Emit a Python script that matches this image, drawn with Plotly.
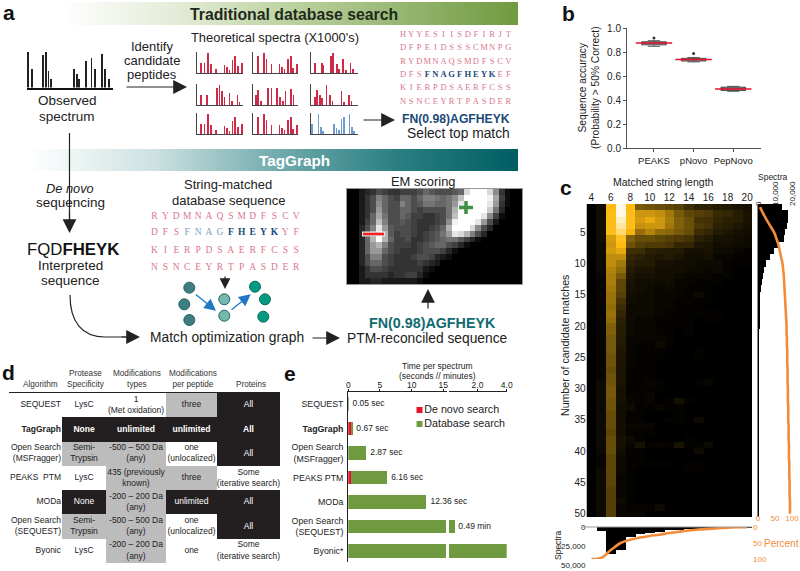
import plotly.graph_objects as go

W, H = 800, 571
SANS = "Liberation Sans"
SERIF = "Liberation Serif"
ORANGE = "#f28c38"
GREEN = "#6f9a3f"

# ---- data -----------------------------------------------------------------
ACC_NAMES = ["PEAKS", "pNovo", "PepNovo"]
ACC_Q1 = [0.862, 0.727, 0.482]
ACC_MED = [0.878, 0.74, 0.495]
ACC_Q3 = [0.888, 0.75, 0.51]
ACC_LOW = [0.85, 0.72, 0.475]
ACC_HIGH = [0.897, 0.757, 0.516]
ACC_OUT = [0.92, 0.79, None]

LENGTHS = list(range(4, 21))
CANDIDATES = list(range(1, 51))
MATCH_RATE = [
    [0,4,60,100,60,28,26,24,22,20,14,10,10,8,7,6,5],
    [0,4,62,100,62,48,48,45,38,28,22,20,18,13,12,9,6],
    [0,4,62,94,62,50,55,48,40,30,25,16,15,12,10,9,6],
    [0,4,62,88,62,46,48,48,38,30,25,18,16,10,9,7,5],
    [0,4,62,80,58,35,42,34,32,28,24,14,12,8,7,5,4],
    [0,4,50,64,30,24,24,22,20,18,16,10,8,5,5,4,3],
    [0,3,48,60,25,20,18,18,17,12,12,7,6,4,4,3,3],
    [0,3,50,54,14,14,10,9,8,8,5,5,6,3,3,2,1],
    [0,3,45,45,12,10,8,7,8,6,4,4,5,2,2,1,1],
    [0,3,45,38,10,8,8,5,5,4,4,3,3,3,1,1,1],
    [0,3,42,34,8,6,6,4,4,4,3,3,2,3,1,0,0],
    [0,2,40,28,7,5,5,4,4,3,2,2,2,1,1,0,0],
    [0,2,40,22,6,4,4,3,4,2,2,1,1,1,0,0,0],
    [0,2,38,22,5,4,3,2,3,2,1,1,1,0,0,0,0],
    [0,2,36,20,4,3,3,2,2,2,1,3,1,0,0,0,0],
    [0,2,36,16,4,3,3,2,2,1,1,1,1,0,0,0,0],
    [0,2,34,14,3,3,3,2,2,1,1,1,0,0,0,0,0],
    [0,2,36,12,3,3,3,2,1,1,1,1,1,1,0,0,0],
    [0,2,34,10,3,2,2,1,1,1,1,0,1,1,0,0,0],
    [0,2,30,9,3,2,2,1,1,1,1,0,0,0,0,0,0],
    [0,2,30,9,3,2,2,1,1,0,1,0,0,0,0,0,0],
    [0,2,28,8,2,2,2,2,1,0,0,0,0,0,0,0,0],
    [0,2,28,8,2,1,1,3,1,0,0,0,0,0,0,0,0],
    [0,2,28,7,2,1,1,1,0,0,0,1,0,0,0,0,0],
    [0,2,26,7,2,1,1,1,0,0,0,1,0,0,0,0,0],
    [0,2,26,6,2,1,1,0,0,0,0,0,0,0,0,0,0],
    [0,2,24,6,1,1,1,0,0,0,0,0,0,0,0,0,0],
    [0,2,26,6,1,1,1,0,0,0,0,0,0,0,0,0,0],
    [0,3,26,6,1,1,2,1,0,0,0,1,2,0,0,0,0],
    [0,3,28,5,1,1,1,1,0,0,0,0,0,0,0,0,0],
    [0,3,28,5,1,1,2,0,0,0,0,0,0,0,0,0,0],
    [0,3,26,5,2,1,2,0,1,5,1,0,0,0,0,0,0],
    [0,3,26,4,3,1,1,2,1,1,0,0,0,0,0,0,0],
    [0,3,24,4,1,1,0,0,0,1,0,0,0,0,0,0,0],
    [0,3,24,4,1,1,0,0,1,1,0,3,0,0,0,0,0],
    [0,3,24,4,2,2,2,0,0,0,0,0,0,0,0,0,0],
    [0,3,22,4,1,1,1,0,0,0,0,0,0,0,0,0,0],
    [0,3,24,5,3,1,0,0,0,0,1,0,0,0,0,0,0],
    [0,3,24,5,2,5,1,2,1,6,1,1,3,0,0,0,0],
    [0,3,24,4,1,1,0,0,0,0,0,3,0,0,0,0,0],
    [0,2,22,3,1,1,0,0,0,0,0,0,0,0,0,0,0],
    [0,2,22,3,1,1,1,1,1,0,1,1,0,0,0,0,0],
    [0,3,22,3,1,0,0,0,0,0,1,1,0,0,0,0,0],
    [0,3,22,2,1,0,0,0,0,0,0,0,0,0,0,0,0],
    [0,3,22,2,1,0,0,0,0,0,0,0,0,0,0,0,0],
    [0,3,20,2,1,0,0,0,0,0,0,0,0,0,0,0,0],
    [0,3,20,2,1,0,0,0,0,0,0,0,0,0,0,0,0],
    [0,3,20,3,1,0,0,0,0,0,0,0,0,0,0,0,0],
    [0,3,20,2,1,1,1,3,0,0,0,0,0,0,0,0,0],
    [0,3,20,2,2,2,0,0,0,0,0,0,0,0,0,0,0],
]
CAND_SPECTRA = [14000,17500,17500,17300,16000,15000,12000,9700,7100,4800,3600,2800,2200,1700,1400,
                1150,950,800,700,620,560,500,450,410,370,340,310,290,270,250,235,220,210,200,190,
                180,170,160,155,150,145,140,135,130,125,120,115,110,105,100]
CAND_PERCENT = [6,15,25,36,47,54,60,64,68,72,74,76,77,78,79,80,81,82,83,84,84,85,85,86,86,86,87,87,87,88,
                88,88,89,89,89,90,90,90,91,91,91,92,92,92,93,93,93,94,94,94]
LEN_SPECTRA = [0,5000,36000,30000,13000,9500,8000,6000,4500,3500,2700,2000,1300,800,500,200,100]
LEN_PERCENT = [100,97,72,50,40,33,28,24,19,15,11,8,6,4,2,1,0.5]

EM_SCORE = [
    [0,0,2,3,4,6,5,4,4,5,5,5,6,8,7,6,6,6,7,8,17,20,20,20,17,11,4,1,0,0],
    [0,0,2,4,6,10,8,6,5,8,8,6,8,10,10,9,8,9,11,15,20,20,20,20,19,13,5,1,0,0],
    [0,0,2,4,6,11,8,6,6,10,8,6,7,9,9,8,8,9,12,18,20,20,20,20,18,12,4,1,0,0],
    [0,0,2,4,6,12,8,6,6,8,8,6,5,6,6,6,6,9,14,20,20,20,20,20,16,9,3,0,0,0],
    [0,0,2,4,8,13,9,6,6,8,7,5,5,4,4,5,6,9,15,20,20,20,20,18,11,5,1,0,0,0],
    [0,0,2,5,8,15,10,6,6,7,6,5,4,4,4,5,6,11,19,20,20,20,18,12,6,2,0,0,0,0],
    [0,0,3,6,10,18,12,7,6,6,6,5,4,4,5,6,8,14,20,20,20,17,11,6,3,0,0,0,0,0],
    [0,0,3,6,12,20,14,7,5,6,6,5,4,5,6,7,9,12,18,17,14,10,6,3,0,0,0,0,0,0],
    [0,0,3,8,14,20,14,8,5,5,6,4,4,5,6,7,8,9,9,7,5,3,1,0,0,0,0,0,0,0],
    [0,0,3,8,12,14,10,6,5,5,5,4,5,6,7,8,8,6,5,3,1,0,0,0,0,0,0,0,0,0],
    [0,0,3,8,12,12,8,6,5,4,4,4,5,6,6,6,5,3,1,0,0,0,0,0,0,0,0,0,0,0],
    [0,0,3,6,10,10,6,5,4,4,4,5,6,6,5,3,2,1,0,0,0,0,0,0,0,0,0,0,0,0],
    [0,0,3,6,8,8,6,5,4,4,4,4,5,4,3,2,0,0,0,0,0,0,0,0,0,0,0,0,0,0],
    [0,0,2,4,6,6,5,4,4,4,4,4,4,2,1,0,0,0,0,0,0,0,0,0,0,0,0,0,0,0],
    [0,0,2,4,4,4,4,3,4,4,5,5,3,1,0,0,0,0,0,0,0,0,0,0,0,0,0,0,0,0],
    [0,0,2,2,3,3,2,2,2,2,2,2,1,0,0,0,0,0,0,0,0,0,0,0,0,0,0,0,0,0],
]

TABLE_HEAD = ["Algorithm", "Protease<br>Specificity", "Modifications<br>types", "Modifications<br>per peptide", "Proteins"]
TABLE_ALGO = ["SEQUEST", "<b>TagGraph</b>", "Open Search<br>(MSFragger)", "PEAKS  PTM", "MODa", "Open Search<br>(SEQUEST)", "Byonic"]
TABLE_TEXT = [
    ["LysC", "1<br>(Met oxidation)", "three", "All"],
    ["<b>None</b>", "<b>unlimited</b>", "<b>unlimited</b>", "<b>All</b>"],
    ["Semi-<br>Trypsin", "-500 – 500 Da<br>(any)", "one<br>(unlocalized)", "All"],
    ["LysC", "435 (previously<br>known)", "three", "Some<br>(iterative search)"],
    ["None", "-200 – 200 Da<br>(any)", "unlimited", "All"],
    ["Semi-<br>Trypsin", "-500 – 500 Da<br>(any)", "one<br>(unlocalized)", "All"],
    ["LysC", "-200 – 200 Da<br>(any)", "one", "Some<br>(iterative search)"],
]
TABLE_LEVEL = [
    [0, 0, 1, 2],
    [2, 2, 2, 2],
    [1, 1, 0, 2],
    [0, 1, 1, 0],
    [2, 1, 2, 2],
    [1, 1, 0, 2],
    [0, 1, 0, 0],
]

TIME_ALGO = ["SEQUEST", "<b>TagGraph</b>", "Open Search<br>(MSFragger)", "PEAKS PTM", "MODa", "Open Search<br>(SEQUEST)", "Byonic*"]
TIME_DENOVO_SEC = [0, 0.5, 0, 0.45, 0, 0, 0]
TIME_DB_SEC = [0.05, 0.17, 2.87, 5.71, 12.36, 15.4, 15.4]
TIME_DB_MIN = [None, None, None, None, None, 0.49, 3.99]
TIME_LABEL = ["0.05 sec", "0.67 sec", "2.87 sec", "6.16 sec", "12.36 sec", "0.49 min", "3.99 min"]
LEGEND_NAMES = ["De novo search", "Database search"]

OBS_POS = [1, 6, 19, 22, 25, 28, 55, 58, 61, 69, 75, 79, 87, 91, 95]
OBS_H = [100, 53, 90, 100, 45, 24, 53, 38, 24, 73, 83, 53, 94, 53, 24]
SPEC_POS = {
    "A": [9,16,23,30,41,59,64,70,76,81,88,96],
    "B": [11,24,30,41,59,65,70,78,84,89,97],
    "C": [8,23,26,42,47,56,60,68,75,84,89],
    "D": [9,21,43,48,54,59,70,75,87,91],
    "E": [6,11,18,33,41,54,60,67,72,84,90],
    "F": [8,13,19,23,33,40,46,65,70,81,86],
    "I": [2,16,21,26,49,54,59,65,70,82,87,91],
}
SPEC_H = {
    "A": [50,50,97,45,20,40,30,16,60,80,35,48],
    "B": [80,97,65,45,45,30,20,65,80,25,45],
    "C": [48,48,38,80,97,45,20,65,16,48,20],
    "D": [48,48,80,97,65,40,56,20,48,13],
    "E": [48,72,20,80,80,80,40,20,65,77,48],
    "F": [40,72,48,32,97,48,20,65,13,48,20],
    "I": [48,97,35,16,48,30,20,72,80,97,32,16],
}
SPEC_GRID = [["A", "B", "C"], ["D", "E", "F"], ["A", "B", "I"]]
SEQ_A = ["HYYESIISDFIRJT", "DFPEIDSSSCMNPG", "RYDMNAQSMDFSCV", "DFSFNAGFHEYKEF", "KIERPDSAERFCSS", "NSNCEYRTPASDER"]
SEQ_B = ["RYDMNAQSMDFSCV", "DFSFNAGFHEYKYF", "KIERPDSAERFCSS", "NSNCEYRTPASDER"]

# ---- helpers --------------------------------------------------------------
fig = go.Figure()
layout = dict(width=W, height=H, margin=dict(l=0, r=0, t=0, b=0, pad=0, autoexpand=False), showlegend=False,
              paper_bgcolor="white", plot_bgcolor="rgba(0,0,0,0)", barmode="stack", bargap=0,
              font=dict(family=SANS, size=10, color="#222"))
annos, shapes = [], []
_n = [1]


def axes(x0, x1, y0, y1, xa=None, ya=None):
    """New axis pair placed by its pixel box; returns trace refs."""
    i = _n[0]
    _n[0] += 1
    sx = "" if i == 1 else str(i)
    xd = dict(domain=[x0 / W, x1 / W], anchor=f"y{sx}", showgrid=False, zeroline=False, visible=False)
    yd = dict(domain=[1 - y1 / H, 1 - y0 / H], anchor=f"x{sx}", showgrid=False, zeroline=False, visible=False)
    xd.update(xa or {})
    yd.update(ya or {})
    layout[f"xaxis{sx}"] = xd
    layout[f"yaxis{sx}"] = yd
    return f"x{sx}", f"y{sx}"


X, Y = axes(0, W, 0, H, dict(range=[0, W]), dict(range=[H, 0]))


def txt(x, y, s, size=13.5, color="#222", **kw):
    annos.append(dict(x=x, y=y, xref="x", yref="y", text=s, showarrow=False,
                      font=dict(size=size, color=color, family=kw.pop("family", SANS)),
                      xanchor=kw.pop("xanchor", "center"), yanchor="middle", **kw))


def arrow(x0, y0, x1, y1, color="#222", width=1.2, size=2.3):
    annos.append(dict(x=x1, y=y1, ax=x0, ay=y0, xref="x", yref="y", axref="x", ayref="y", text="",
                      showarrow=True, arrowhead=2, arrowsize=size, arrowwidth=width, arrowcolor=color, standoff=0))


def line(x0, y0, x1, y1, color="#222", width=1.2):
    shapes.append(dict(type="line", x0=x0, y0=y0, x1=x1, y1=y1, xref="x", yref="y",
                       line=dict(color=color, width=width)))


# ---- panel a: banners -----------------------------------------------------
xa, ya = axes(60, 518, 2, 25, dict(range=[0, 4]), dict(range=[0, 1]))
fig.add_trace(go.Heatmap(z=[[0, 1, 2, 3, 4], [0, 1, 2, 3, 4]], x=[0, 1, 2, 3, 4], y=[0, 1], zsmooth="best",
                         colorscale=[[0, "#ffffff"], [0.25, "#e4ecd8"], [0.5, "#bcd2a0"], [0.75, "#95b570"], [1, GREEN]],
                         showscale=False, hoverinfo="skip", xaxis=xa, yaxis=ya))
xa, ya = axes(28, 518, 149, 171, dict(range=[0, 4]), dict(range=[0, 1]))
fig.add_trace(go.Heatmap(z=[[0, 1, 2, 3, 4], [0, 1, 2, 3, 4]], x=[0, 1, 2, 3, 4], y=[0, 1], zsmooth="best",
                         colorscale=[[0, "#ffffff"], [0.25, "#cfe2e2"], [0.5, "#75adae"], [0.75, "#2a7f82"], [1, "#005d62"]],
                         showscale=False, hoverinfo="skip", xaxis=xa, yaxis=ya))
txt(294, 14, "<b>Traditional database search</b>", 15.8, "#1e2a1a")
txt(294, 160, "<b>TagGraph</b>", 15.3, "white")

# observed spectrum
xa, ya = axes(27, 113, 50, 87.5,
              dict(visible=True, range=[0, 100], showline=True, linecolor="#111", linewidth=2,
                   showticklabels=False, ticks=""),
              dict(range=[0, 105]))
fig.add_trace(go.Bar(x=OBS_POS, y=OBS_H, width=[2.4] + [1.1] * (len(OBS_POS) - 1), marker=dict(color="#222", line=dict(width=0)),
                     showlegend=False, hoverinfo="skip", xaxis=xa, yaxis=ya))

# theoretical spectra
col_x = [(196.7, 243.3), (253.3, 298.3), (311, 358)]
row_y = [73.3, 105, 134.3]
for r, row in enumerate(SPEC_GRID):
    for c, key in enumerate(row):
        colr = "#6f9bd1" if key == "I" else "#cf2a48"
        xa, ya = axes(col_x[c][0], col_x[c][1], row_y[r] - 21, row_y[r],
                      dict(visible=True, range=[0, 100], showline=True, linecolor="#444", linewidth=1,
                           showticklabels=False, ticks=""),
                      dict(visible=True, range=[0, 100], showline=True, linecolor="#444", linewidth=1,
                           showticklabels=False, ticks=""))
        fig.add_trace(go.Bar(x=SPEC_POS[key], y=SPEC_H[key], width=1.6, marker=dict(color=colr, line=dict(width=0)),
                             showlegend=False, hoverinfo="skip", xaxis=xa, yaxis=ya))

txt(152, 46, "Identify", 13)
txt(152, 60, "candidate", 13)
txt(152, 74, "peptides", 13)
txt(67, 100, "Observed")
txt(67, 116, "spectrum")
txt(275, 37, "Theoretical spectra (X1000's)", 12.9)
arrow(125, 87, 187, 87)
arrow(362, 120, 395, 120)
txt(456, 119, "<b>FN(0.98)AGFHEYK</b>", 12.2, "#1c4a78")
txt(458, 133, "Select top match", 13.8)


def letters(rows, x0, dx, ys, size, special):
    """Spread the sequences letter by letter; special maps (row, col) to a style key."""
    groups = {}
    for r, s in enumerate(rows):
        for c, ch in enumerate(s):
            k = special.get((r, c), "plain")
            g = groups.setdefault(k, ([], [], []))
            g[0].append(x0 + c * dx)
            g[1].append(ys[r])
            g[2].append(ch)
    style = dict(plain=("#d9788c", "normal"), bold=("#1c4a78", "bold"), pale=("#7f9fbd", "normal"))
    for k, (gx, gy, gt) in groups.items():
        fig.add_trace(go.Scatter(x=gx, y=gy, text=gt, mode="text", showlegend=False, hoverinfo="skip", xaxis=X, yaxis=Y,
                                 textfont=dict(family=SERIF, size=size, color=style[k][0], weight=style[k][1])))


letters(SEQ_A, 403, 8.1, [35, 48, 62, 75, 88, 102], 8.5, {(3, c): "bold" for c in range(3, 12)})
sp = {(1, c): "pale" for c in range(3, 7)}
sp.update({(1, c): "bold" for c in range(7, 12)})
letters(SEQ_B, 154.5, 10.9, [217, 233, 251, 268], 9.5, sp)

# lower flow
line(69.5, 133, 69.5, 225)
arrow(69.5, 210, 69.5, 233)
txt(70, 188, "<i>De novo</i>", 12.8)
txt(70, 202, "sequencing")
txt(73, 249, "FQD<b>FHEYK</b>", 16.8, "#111")
txt(70, 265, "Interpreted")
txt(70, 280, "sequence")
shapes.append(dict(type="path", path="M 70 295 C 70 322, 82 337, 105 337 L 130 337", xref="x", yref="y",
                   line=dict(color="#222", width=1.2)))
arrow(120, 337, 140, 337)
txt(228, 184, "String-matched", 13)
txt(228, 200, "database sequence", 13)
arrow(225, 275, 225, 289, "#222", 1.2, 1.8)
txt(227, 337, "Match optimization graph", 13.8)
arrow(311, 338, 340, 338)
txt(427, 338, "PTM-reconciled sequence", 13.8)
txt(432, 323, "<b>FN(0.98)AGFHEYK</b>", 14.3, "#0f6b6e")
arrow(428, 310, 428, 289)
txt(423, 181, "EM scoring", 12.9)

# match graph
for gx, gy, fc, lc in [
    ([189.3, 184.3, 189.3], [287.7, 304.3, 320], "#3d7f80", "#2a5f60"),
    ([224.3, 224.3], [299.3, 315.7], "#74b9b0", "#2a5f60"),
    ([255, 265, 263.3], [286.7, 299.3, 316.7], "#069a80", "#0b6a5c"),
]:
    fig.add_trace(go.Scatter(x=gx, y=gy, mode="markers", showlegend=False, hoverinfo="skip", xaxis=X, yaxis=Y,
                             marker=dict(size=11, color=fc, line=dict(color=lc, width=1))))
arrow(194.3, 293.3, 216, 310.7, "#1f78c1", 1.3, 1.8)
arrow(230, 311, 250.7, 294.3, "#1f78c1", 1.3, 1.8)

# EM heat map
xa, ya = axes(347, 522, 189, 284,
              dict(range=[-0.5, 29.5], visible=True, showline=True, mirror=True, linecolor="#999", linewidth=1,
                   showticklabels=False, ticks=""),
              dict(range=[15.5, -0.5], visible=True, showline=True, mirror=True, linecolor="#999", linewidth=1,
                   showticklabels=False, ticks=""))
fig.add_trace(go.Heatmap(z=EM_SCORE, zmin=0, zmax=20, colorscale=[[0, "#000000"], [1, "#ffffff"]], showscale=False,
                         hoverinfo="skip", xaxis=xa, yaxis=ya))
line(362, 234, 385, 234, "#e6e6e6", 5)
line(363, 234, 384, 234, "#ee2024", 2.6)
line(466, 201, 466, 214, "#3f8f45", 3.5)
line(459, 207.5, 473, 207.5, "#3f8f45", 3.5)

# ---- panel b --------------------------------------------------------------
xa, ya = axes(627, 761, 28.3, 148.3,
              dict(visible=True, range=[-0.68, 2.7], tickvals=[0, 1, 2], ticktext=ACC_NAMES, showline=True,
                   linecolor="#555", linewidth=1, ticks="outside", ticklen=3, tickcolor="#555",
                   tickfont=dict(size=9.5, color="#222")),
              dict(visible=True, range=[0, 1], tickvals=[0, .2, .4, .6, .8, 1], tickformat=".1f", showline=True,
                   linecolor="#555", linewidth=1, ticks="outside", ticklen=3, tickcolor="#555",
                   tickfont=dict(size=10, color="#222")))
fig.add_trace(go.Box(x=[0, 1, 2], q1=ACC_Q1, median=ACC_MED, q3=ACC_Q3, lowerfence=ACC_LOW, upperfence=ACC_HIGH,
                     width=0.62, fillcolor="#8d9494", line=dict(color="#333", width=0.8), showlegend=False,
                     hoverinfo="skip", boxpoints=False, xaxis=xa, yaxis=ya))
fig.add_trace(go.Scatter(x=[0, 1, 2], y=ACC_MED, mode="markers", showlegend=False, hoverinfo="skip", xaxis=xa, yaxis=ya,
                         marker=dict(symbol="line-ew", size=26, line=dict(color="#e8112d", width=1.5))))
fig.add_trace(go.Scatter(x=[0, 1, 2], y=ACC_OUT, mode="markers", showlegend=False, hoverinfo="skip", xaxis=xa, yaxis=ya,
                         marker=dict(symbol="circle", size=3, color="#333")))
txt(589, 88, "Sequence accuracy<br>(Probability > 50% Correct)", 10.2, textangle=-90)

# ---- panel c --------------------------------------------------------------
HX0, HX1, HY0, HY1 = 586.5, 752, 204, 517
xh, yh = axes(HX0, HX1, HY0, HY1,
              dict(visible=True, range=[3.5, 20.5], side="top", tickvals=list(range(4, 21, 2)), ticks="",
                   tickfont=dict(size=10, color="#222"), showline=False),
              dict(visible=True, range=[50.5, 0.5], tickvals=list(range(5, 51, 5)), ticks="",
                   tickfont=dict(size=10, color="#222"), showline=False))
fig.add_trace(go.Heatmap(z=MATCH_RATE, x=LENGTHS, y=CANDIDATES, zmin=0, zmax=100, showscale=False, hoverinfo="skip",
                         colorscale=[[0, "#000000"], [0.3, "#80600a"], [0.6, "#ffba10"], [0.8, "#ffd870"], [1, "#fff8e4"]],
                         xaxis=xh, yaxis=yh))
txt(663, 182, "Matched string length", 10.5)
txt(565, 346, "Number of candidate matches", 10.6, textangle=-90)
txt(773, 177, "Spectra", 8.5)
txt(558, 545, "Spectra", 8.5, textangle=-90)
txt(781, 543, "Percent", 10, ORANGE)

# right histogram
xa, ya = axes(758, 792, HY0, HY1,
              dict(visible=True, range=[0, 20000], side="top", tickvals=[0, 10000, 20000], tickformat=",", tickangle=-90,
                   ticks="", tickfont=dict(size=8, color="#222"), showline=False, ticklabelstandoff=-3),
              dict(visible=True, range=[50.5, 0.5], showline=True, linecolor="#888", linewidth=1, ticks="",
                   showticklabels=False))
fig.add_trace(go.Bar(y=CANDIDATES, x=CAND_SPECTRA, orientation="h", marker=dict(color="black", line=dict(width=0)),
                     showlegend=False, hoverinfo="skip", xaxis=xa, yaxis=ya))
xa, ya = axes(758, 792, HY0, HY1,
              dict(visible=True, range=[0, 100], side="bottom", tickvals=[0, 50, 100], ticks="",
                   tickfont=dict(size=8, color=ORANGE), showline=False, ticklabelstandoff=-5),
              dict(range=[50.5, 0.5]))
fig.add_trace(go.Scatter(x=CAND_PERCENT, y=CANDIDATES, mode="lines", line=dict(color=ORANGE, width=2.6, shape="spline"),
                         showlegend=False, hoverinfo="skip", xaxis=xa, yaxis=ya))

# bottom histogram
xa, ya = axes(HX0, HX1, 527, 565,
              dict(range=[3.5, 20.5]),
              dict(visible=True, range=[50000, 0], tickvals=[0, 25000, 50000], tickformat=",", ticks="",
                   tickfont=dict(size=8, color="#222"), showline=False))
fig.add_trace(go.Bar(x=LENGTHS, y=LEN_SPECTRA, marker=dict(color="black", line=dict(width=0)),
                     showlegend=False, hoverinfo="skip", xaxis=xa, yaxis=ya))
line(583, 527, 752, 527, "#999", 1)
xa, ya = axes(HX0, HX1, 527, 559,
              dict(range=[3.5, 20.5]),
              dict(visible=True, range=[100, 0], side="right", tickvals=[0, 50, 100], ticks="",
                   tickfont=dict(size=8, color=ORANGE), showline=False))
fig.add_trace(go.Scatter(x=LENGTHS, y=LEN_PERCENT, mode="lines", line=dict(color=ORANGE, width=2.6, shape="spline"),
                         showlegend=False, hoverinfo="skip", xaxis=xa, yaxis=ya))

# ---- panel d --------------------------------------------------------------
COL_EDGES = [62, 106, 166, 217, 280]
xa, ya = axes(9, 280, 393, 563, dict(range=[9, 280]), dict(range=[7, 0]))
fig.add_trace(go.Heatmap(z=TABLE_LEVEL, x=COL_EDGES, y=list(range(8)), zmin=0, zmax=2, showscale=False, hoverinfo="skip",
                         colorscale=[[0, "#ffffff"], [0.5, "#bcbcbc"], [1, "#231f20"]], xaxis=xa, yaxis=ya))
cx, cy, ct, cc = [], [], [], []
for r, row in enumerate(TABLE_TEXT):
    for c, s in enumerate(row):
        cx.append((COL_EDGES[c] + COL_EDGES[c + 1]) / 2)
        cy.append(r + 0.5)
        ct.append(s)
        cc.append("white" if TABLE_LEVEL[r][c] == 2 else "#222")
fig.add_trace(go.Scatter(x=cx, y=cy, text=ct, mode="text", textfont=dict(size=8.5, color=cc), showlegend=False,
                         hoverinfo="skip", cliponaxis=False, xaxis=xa, yaxis=ya))
fig.add_trace(go.Scatter(x=[61] * 7, y=[r + 0.5 for r in range(7)], text=TABLE_ALGO, mode="text",
                         textposition="middle left", textfont=dict(size=8.5, color="#222"), showlegend=False,
                         hoverinfo="skip", cliponaxis=False, xaxis=xa, yaxis=ya))
line(9, 392.5, 280, 392.5, "#222", 1.2)
for hx, hs in zip([40, 86, 137, 193, 251], TABLE_HEAD):
    annos.append(dict(x=hx, y=391, xref="x", yref="y", text=hs, showarrow=False, yanchor="bottom",
                      font=dict(size=8.2, color="#333"), align="center"))

# ---- panel e --------------------------------------------------------------
xe, ye = axes(348.3, 446.5, 392, 562,
              dict(visible=True, range=[0, 15.5], side="top", tickvals=[0, 5, 10, 15], ticks="outside", ticklen=2,
                   tickcolor="#222", showline=True, linecolor="#222", linewidth=1.2, ticklabelstandoff=-2,
                   tickfont=dict(size=8.5, color="#222")),
              dict(visible=True, range=[6.45, -0.49], tickvals=list(range(7)), ticktext=TIME_ALGO, ticks="",
                   showline=True, linecolor="#222", linewidth=1.2, ticklabelstandoff=2,
                   tickfont=dict(size=8.8, color="#222")))
xm, _ = axes(449, 506.7, 392, 562,
             dict(visible=True, range=[0.05, 4], side="top", tickvals=[2, 4], tickformat=".1f", ticks="outside", ticklen=2,
                  tickcolor="#222", showline=True, linecolor="#222", linewidth=1.2, anchor=ye, ticklabelstandoff=-2,
                  tickfont=dict(size=8.5, color="#222")),
             dict(range=[6.45, -0.49]))
rows = list(range(7))
fig.add_trace(go.Bar(y=rows, x=TIME_DENOVO_SEC, orientation="h", width=0.57,
                     marker=dict(color="#e8112d", line=dict(width=0)), hoverinfo="skip", xaxis=xe, yaxis=ye))
fig.add_trace(go.Bar(y=rows, x=TIME_DB_SEC, orientation="h", width=0.57,
                     marker=dict(color=GREEN, line=dict(width=0)), hoverinfo="skip", xaxis=xe, yaxis=ye))
fig.add_trace(go.Bar(y=rows, x=TIME_DB_MIN, orientation="h", width=0.57,
                     marker=dict(color=GREEN, line=dict(width=0)), hoverinfo="skip", xaxis=xm, yaxis=ye))
fig.add_trace(go.Scatter(x=[a + b + 0.6 for a, b in zip(TIME_DENOVO_SEC[:5], TIME_DB_SEC[:5])], y=rows[:5],
                         text=TIME_LABEL[:5], mode="text", textposition="middle right", cliponaxis=False,
                         textfont=dict(size=8.5, color="#222"), showlegend=False, hoverinfo="skip", xaxis=xe, yaxis=ye))
fig.add_trace(go.Scatter(x=[v + 0.2 for v in TIME_DB_MIN[5:]], y=rows[5:],
                         text=TIME_LABEL[5:], mode="text", textposition="middle right", cliponaxis=False,
                         textfont=dict(size=8.5, color="#222"), showlegend=False, hoverinfo="skip", xaxis=xm, yaxis=ye))
txt(437, 366, "Time per spectrum", 8.5)
txt(437, 376, "(seconds // minutes)", 8.5)
fig.add_trace(go.Scatter(x=[419.5, 419.5], y=[410, 424], text=LEGEND_NAMES, mode="markers+text", textposition="middle right",
                         marker=dict(symbol="square", size=6, color=["#e8112d", GREEN]),
                         textfont=dict(size=10.7, color="#222"), showlegend=False, hoverinfo="skip", xaxis=X, yaxis=Y))

# panel letters
for lx, ly, s in [(9, 12.5, "a"), (568, 13, "b"), (566, 187, "c"), (8, 372, "d"), (290, 373, "e")]:
    txt(lx, ly, f"<b>{s}</b>", 21, "#111")

layout["annotations"] = annos
layout["shapes"] = shapes
fig.update_layout(**layout)
fig.write_html("out.html", post_script="document.body.style.margin='0';", config=dict(displayModeBar=False))
